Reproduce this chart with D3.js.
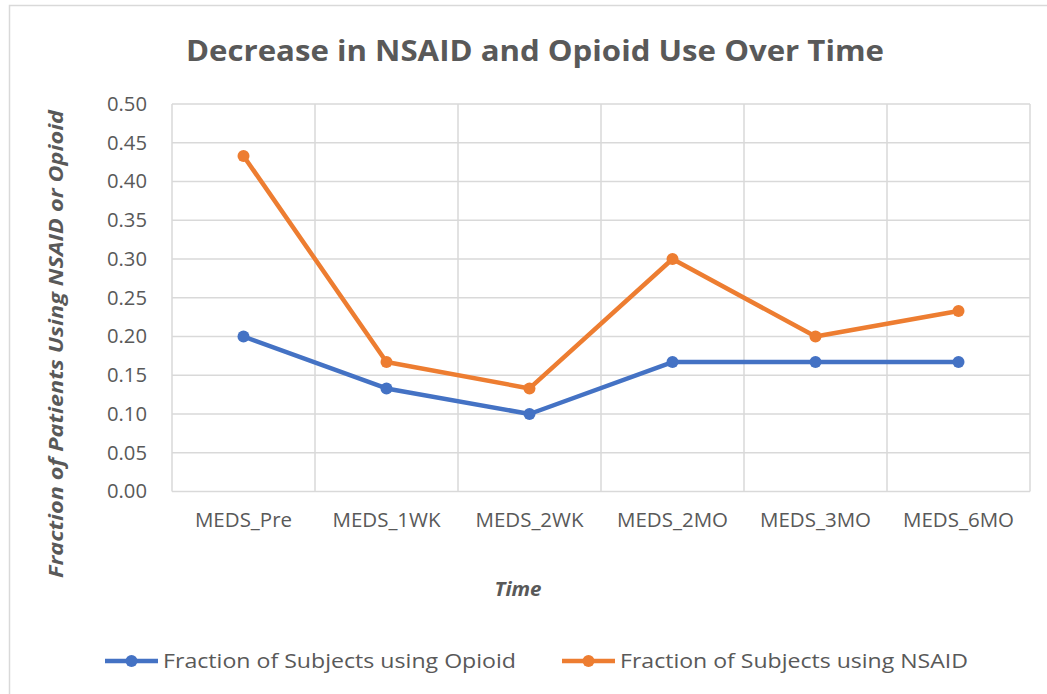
<!DOCTYPE html>
<html><head><meta charset="utf-8">
<script src="https://cdn.jsdelivr.net/npm/d3@7"></script>
<style>body{margin:0;background:#fff;}svg{display:block;}</style>
</head><body>
<svg id="chart" width="1047" height="694"></svg>
<script>
const categories = ["MEDS_Pre","MEDS_1WK","MEDS_2WK","MEDS_2MO","MEDS_3MO","MEDS_6MO"];
const opioidValues = [0.200, 0.133, 0.100, 0.167, 0.167, 0.167];
const nsaidValues = [0.433, 0.167, 0.133, 0.300, 0.200, 0.233];
const yTicks = [0,0.05,0.10,0.15,0.20,0.25,0.30,0.35,0.40,0.45,0.50];
const seriesNames = ["Fraction of Subjects using Opioid","Fraction of Subjects using NSAID"];
const titleText = "Decrease in NSAID and Opioid Use Over Time";
const xTitle = "Time";
const yTitle = "Fraction of Patients Using NSAID or Opioid";

const svg = d3.select("#chart");
const font = "'Open Sans', 'Noto Sans', sans-serif";
const textCol = "#595959";
const gridCol = "#d9d9d9";
const colors = ["#4472C4","#ED7D31"];
const L = 172, R = 1030, T = 104, B = 491.5;

// outer chart border
svg.append("rect").attr("x",9.5).attr("y",5.5).attr("width",1100).attr("height",1100)
  .attr("fill","none").attr("stroke","#d9d9d9").attr("stroke-width",1.5);

const x = d3.scaleBand().domain(categories).range([L,R]).padding(0);
const y = d3.scaleLinear().domain([0,0.5]).range([B,T]);

// horizontal grid
svg.append("g").selectAll("line").data(yTicks).join("line")
  .attr("x1",L).attr("x2",R).attr("y1",d=>y(d)).attr("y2",d=>y(d))
  .attr("stroke",gridCol).attr("stroke-width",1.5);
// vertical grid at category boundaries
const bounds = categories.map(c=>x(c)).concat([R]);
svg.append("g").selectAll("line").data(bounds).join("line")
  .attr("x1",d=>d).attr("x2",d=>d).attr("y1",T).attr("y2",B)
  .attr("stroke",gridCol).attr("stroke-width",1.5);

// y axis labels
const yAxis = d3.axisLeft(y).tickValues(yTicks).tickFormat(d3.format(".2f")).tickSize(0).tickPadding(25);
const gy = svg.append("g").attr("transform",`translate(${L},0)`).call(yAxis);
gy.select(".domain").remove();
gy.selectAll("text").attr("font-family",font).attr("font-size",19.5).attr("fill",textCol)
  .attr("textLength",40).attr("lengthAdjust","spacingAndGlyphs");

// x axis labels
const xAxis = d3.axisBottom(x).tickSize(0).tickPadding(21);
const gx = svg.append("g").attr("transform",`translate(0,${B})`).call(xAxis);
gx.select(".domain").remove();
gx.selectAll("text").attr("font-family",font).attr("font-size",20.5).attr("fill",textCol);

// lines
const cx = c => x(c) + x.bandwidth()/2;
[opioidValues, nsaidValues].forEach((vals,i)=>{
  const line = d3.line().x((d,j)=>cx(categories[j])).y(d=>y(d));
  svg.append("path").datum(vals).attr("d",line).attr("fill","none")
    .attr("stroke",colors[i]).attr("stroke-width",4.5).attr("stroke-linejoin","round").attr("stroke-linecap","round");
  svg.append("g").selectAll("circle").data(vals).join("circle")
    .attr("cx",(d,j)=>cx(categories[j])).attr("cy",d=>y(d)).attr("r",6).attr("fill",colors[i]);
});

// title
svg.append("text").attr("x",535).attr("y",61).attr("text-anchor","middle")
  .attr("font-family",font).attr("font-weight","bold").attr("font-size",28.5).attr("fill",textCol)
  .attr("textLength",698).attr("lengthAdjust","spacingAndGlyphs").text(titleText);

// x title
svg.append("text").attr("x",518).attr("y",596).attr("text-anchor","middle")
  .attr("font-family",font).attr("font-weight","bold").attr("font-style","italic").attr("font-size",19).attr("fill",textCol)
  .attr("textLength",47).attr("lengthAdjust","spacingAndGlyphs").text(xTitle);

// y title
svg.append("text").attr("transform","translate(63,344) rotate(-90)").attr("text-anchor","middle")
  .attr("font-family",font).attr("font-weight","bold").attr("font-style","italic").attr("font-size",19).attr("fill",textCol)
  .attr("textLength",468).attr("lengthAdjust","spacingAndGlyphs").text(yTitle);

// legend
const legend = [
  {x0:105, x1:158, tx:163, tl:353},
  {x0:562, x1:615, tx:620, tl:348}
];
const ly = 661;
legend.forEach((l,i)=>{
  svg.append("line").attr("x1",l.x0).attr("x2",l.x1).attr("y1",ly).attr("y2",ly)
    .attr("stroke",colors[i]).attr("stroke-width",4.5);
  svg.append("circle").attr("cx",(l.x0+l.x1)/2).attr("cy",ly).attr("r",6).attr("fill",colors[i]);
  svg.append("text").attr("x",l.tx).attr("y",ly+7).attr("font-family",font).attr("font-size",20)
    .attr("fill",textCol).attr("textLength",l.tl).attr("lengthAdjust","spacingAndGlyphs").text(seriesNames[i]);
});
</script>
</body></html>
